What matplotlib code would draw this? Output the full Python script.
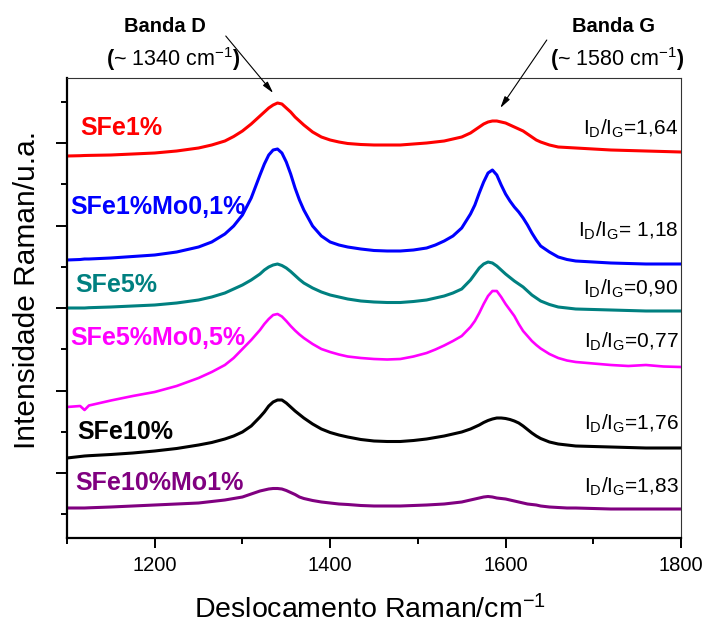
import matplotlib
matplotlib.use("Agg")
import matplotlib.pyplot as plt
from matplotlib.ticker import FixedLocator, NullFormatter

plt.rcParams['font.family'] = ['Liberation Sans', 'DejaVu Sans']
plt.rcParams['mathtext.fontset'] = 'custom'
plt.rcParams['mathtext.rm'] = 'Liberation Sans'
plt.rcParams['mathtext.it'] = 'Liberation Sans:italic'
plt.rcParams['mathtext.bf'] = 'Liberation Sans:bold'
plt.rcParams['mathtext.default'] = 'regular'

# Raman shift (cm^-1)
wavenumber = [1100, 1115, 1120, 1125, 1150, 1175, 1200, 1225, 1250, 1265,
              1280, 1290, 1300, 1310, 1320, 1325, 1330, 1335, 1340, 1345,
              1350, 1355, 1360, 1365, 1370, 1380, 1390, 1400, 1410, 1420,
              1435, 1450, 1465, 1480, 1495, 1510, 1520, 1530, 1540, 1550,
              1560, 1565, 1570, 1575, 1580, 1585, 1590, 1595, 1600, 1605,
              1610, 1615, 1620, 1625, 1630, 1635, 1640, 1650, 1660, 1670,
              1680, 1700, 1720, 1740, 1760, 1780, 1800]

# stacked intensities (a.u.)
sfe1 = [382, 382.3, 382.5, 382.6, 383, 384, 385, 387, 390, 393,
        397, 401.5, 407, 414, 422, 426, 430, 433, 435, 434,
        430, 426, 421, 417, 413, 406, 401, 398, 396, 394.5,
        393.5, 393, 393, 393, 394, 395, 396, 397, 399, 401,
        405, 408, 411, 414, 416, 417, 417, 416, 415, 413,
        411, 409, 407, 404, 401, 398, 396, 393, 391, 390.5,
        390, 389, 388, 387.5, 387, 386.5, 386]
sfe1_mo01 = [278, 278.5, 279, 279, 280, 281.5, 283, 286, 291, 296,
             304, 312, 323, 340, 363, 374, 383, 388, 389, 385,
             376, 364, 350, 338, 328, 312, 302, 296, 293, 291,
             289, 287.5, 287, 287, 288, 290, 293, 297, 302, 310,
             324, 333, 345, 356, 365, 368, 363, 353, 344, 337,
             331, 326, 320, 313, 305, 298, 292, 286, 281, 278.5,
             277, 276, 275, 274.5, 274, 274, 274]
sfe5 = [230, 230, 230, 230.3, 231, 232, 233, 235, 238, 241,
        245, 249, 253, 258, 264, 268, 271, 273, 274, 272.5,
        270, 266.5, 262.5, 258.5, 255, 250, 246, 243, 241, 239,
        237, 236, 235.5, 235.5, 236.5, 238, 240, 242, 245, 249,
        258, 264, 270, 274, 276, 275, 272, 268, 264, 260.5,
        257, 254, 251, 247, 243, 240, 237, 233.5, 231, 230,
        229, 228.5, 228, 227.5, 227, 227, 227]
sfe5_mo05 = [131, 132, 128, 132.5, 137.5, 142, 146, 152, 160, 166,
             173, 180, 189, 198, 208, 214, 219, 223, 224, 221.5,
             217, 212, 207.5, 203.5, 200, 194, 189, 186, 183.5, 181.5,
             180, 179, 178.5, 179, 181.5, 185, 188.5, 192.5, 197, 202,
             211, 217, 225, 234, 242, 247, 247, 241, 234, 228,
             222, 214, 207, 202, 197, 193, 189.5, 184, 180, 177.5,
             176, 174.5, 173, 172, 173, 171.5, 171]
sfe10 = [80, 81.5, 82, 82.3, 83.5, 85, 87, 89.5, 93, 95.5,
         99, 102, 106, 112, 121, 126, 132, 136, 138, 138,
         135, 131, 127, 123.5, 120, 114, 109, 105.5, 103, 101,
         98.5, 97, 96.5, 96.5, 97.5, 99, 100.5, 102, 104, 106,
         109, 111, 113, 115.5, 117.5, 119, 120, 120, 119.5, 118.5,
         117, 115, 112, 108.5, 105, 102, 99.5, 96, 94, 93,
         92, 91.5, 91, 90.5, 90, 90, 90]
sfe10_mo1 = [30, 30, 30, 30.2, 31, 32, 33, 34, 35, 36.5,
             38, 39.5, 41, 44, 47, 48, 49, 49.5, 49.5, 49,
             47.5, 45.5, 43.5, 41, 39.5, 37.5, 36, 35, 34, 33.5,
             32.5, 32, 32, 32, 32.5, 33, 33.5, 34, 35, 36,
             38, 39, 40, 41, 41.5, 41, 40, 39.5, 39, 38,
             37, 36, 35, 34, 33.5, 33, 32, 31, 30.5, 30,
             30, 29.5, 29, 29, 29, 29, 29]

sample_names = ['SFe1%', 'SFe1%Mo0,1%', 'SFe5%', 'SFe5%Mo0,5%', 'SFe10%', 'SFe10%Mo1%']
ratio_values = ['1,64', ' 1,18', '0,90', '0,77', '1,76', '1,83']
series = [sfe1, sfe1_mo01, sfe5, sfe5_mo05, sfe10, sfe10_mo1]
colors = ['#ff0000', '#0000ff', '#008080', '#ff00ff', '#000000', '#800080']
widths = [2.2, 2.2, 2.2, 1.9, 2.2, 2.2]

# label anchor positions (data coords)
name_pos = [(1115, 410), (1103.5, 331), (1109, 253), (1103.5, 200), (1111.5, 106), (1109, 55)]
ratio_y = [403, 301, 243, 190, 108, 45]

fig = plt.figure(figsize=(7.07, 6.24), dpi=100)
ax = fig.add_axes([67 / 707, 1 - 538 / 624, 614 / 707, 460 / 624])

for y, c, w in zip(series, colors, widths):
    ax.plot(wavenumber, y, color=c, lw=w, solid_joinstyle='round')

for name, (x, y), c in zip(sample_names, name_pos, colors):
    ax.text(x, y, name, color=c, fontsize=18, fontweight='bold',
            ha='left', va='center')

for r, y in zip(ratio_values, ratio_y):
    ax.text(1797, y, r'$I_D/I_G$=' + r, fontsize=15, ha='right', va='baseline')

ax.set_xlim(1100, 1800)
ax.set_ylim(0, 460)

ax.xaxis.set_major_locator(FixedLocator([1200, 1400, 1600, 1800]))
ax.xaxis.set_minor_locator(FixedLocator([1100, 1300, 1500, 1700]))
ax.yaxis.set_major_locator(FixedLocator([65, 147.5, 230, 312.5, 395]))
ax.yaxis.set_minor_locator(FixedLocator([23.75, 106.25, 188.75, 271.25, 353.75, 436.25]))
ax.yaxis.set_major_formatter(NullFormatter())

ax.tick_params(axis='x', which='major', direction='out', length=7, width=1.4,
               labelsize=14.5, pad=6)
ax.tick_params(axis='x', which='minor', direction='out', length=4, width=1.4)
ax.tick_params(axis='y', which='major', direction='out', length=8, width=1.4)
ax.tick_params(axis='y', which='minor', direction='out', length=4.5, width=1.4)

for side in ['left', 'bottom']:
    ax.spines[side].set_linewidth(1.6)
for side in ['top', 'right']:
    ax.spines[side].set_linewidth(0.8)
    ax.spines[side].set_color('#333333')

fig.text(27 / 707, 1 - 290 / 624, 'Intensidade Raman/u.a.', rotation=90,
         fontsize=21.5, ha='center', va='center')
fig.text(370 / 707, 1 - 618 / 624, r'Deslocamento Raman/cm$^{-1}$',
         fontsize=20.5, ha='center', va='baseline')

# band annotations above the frame
ax.text(1212, 511, 'Banda D', fontsize=14.5, fontweight='bold',
        ha='center', va='center', clip_on=False)
ax.text(1221, 479, r'$\mathbf{(}$~ 1340 cm$^{-1}$$\mathbf{)}$', fontsize=15.5,
        ha='center', va='center', clip_on=False)
ax.text(1722.6, 511, 'Banda G', fontsize=14.5, fontweight='bold',
        ha='center', va='center', clip_on=False)
ax.text(1727, 479, r'$\mathbf{(}$~ 1580 cm$^{-1}$$\mathbf{)}$', fontsize=15.5,
        ha='center', va='center', clip_on=False)

arrow = dict(arrowstyle='-|>,head_length=0.7,head_width=0.18', color='black',
             lw=0.8, shrinkA=0, shrinkB=0)
ax.annotate('', xy=(1335, 445), xytext=(1281, 502), arrowprops=arrow,
            annotation_clip=False)
ax.annotate('', xy=(1594, 430), xytext=(1647, 498), arrowprops=arrow,
            annotation_clip=False)

fig.savefig('out.png', dpi=100)
